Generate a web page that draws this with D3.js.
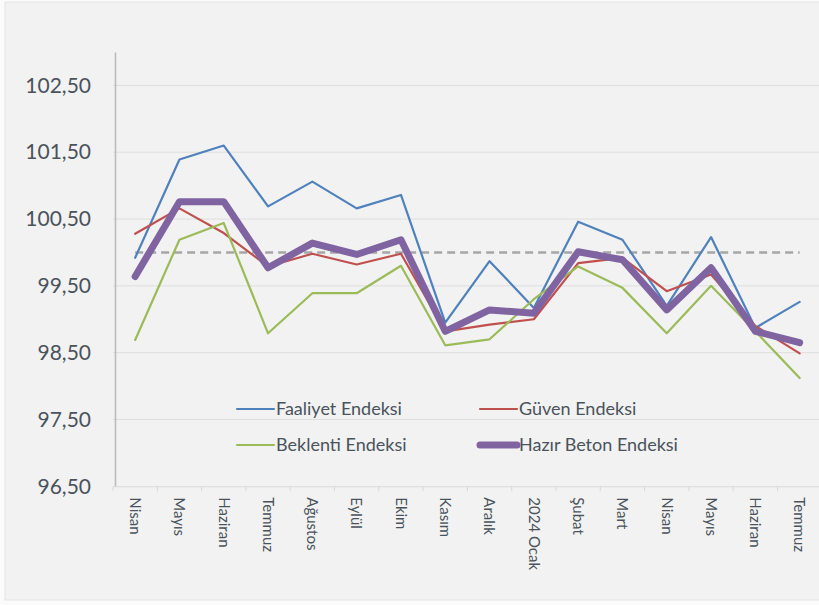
<!DOCTYPE html>
<html><head><meta charset="utf-8">
<script src="https://cdn.jsdelivr.net/npm/d3@7"></script>
<style>body{margin:0;background:#fff;} text{font-family:Lato, "Open Sans", sans-serif;}</style>
</head><body>
<svg id="c" width="819" height="605"></svg>
<script>
const categories = ["Nisan","Mayıs","Haziran","Temmuz","Ağustos","Eylül","Ekim","Kasım","Aralık","2024 Ocak","Şubat","Mart","Nisan","Mayıs","Haziran","Temmuz"];
const faaliyet = [99.92,101.39,101.60,100.69,101.06,100.66,100.86,98.95,99.87,99.17,100.46,100.19,99.20,100.23,98.87,99.26];
const guven    = [100.28,100.66,100.29,99.79,99.98,99.82,99.98,98.82,98.92,99.00,99.84,99.92,99.42,99.67,98.90,98.49];
const beklenti = [98.69,100.19,100.44,98.79,99.39,99.39,99.80,98.61,98.70,99.30,99.79,99.47,98.79,99.50,98.82,98.12];
const hazir    = [99.64,100.76,100.76,99.77,100.14,99.97,100.19,98.82,99.14,99.09,100.01,99.89,99.14,99.77,98.82,98.65];
const referenceLine = 100;
const yTicks = [96.5,97.5,98.5,99.5,100.5,101.5,102.5];
const seriesNames = ["Faaliyet Endeksi","Güven Endeksi","Beklenti Endeksi","Hazır Beton Endeksi"];

const series = [
  {name: seriesNames[0], values: faaliyet, color:"#4f81bd", width:2.2},
  {name: seriesNames[1], values: guven, color:"#c0504d", width:2.2},
  {name: seriesNames[2], values: beklenti, color:"#9bbb59", width:2.2},
  {name: seriesNames[3], values: hazir, color:"#8064a2", width:7}
];

const svg = d3.select("#c");
svg.append("rect").attr("x",0).attr("y",0).attr("width",819).attr("height",605).attr("fill","#fbfbfb");
svg.append("rect").attr("x",5).attr("y",2).attr("width",820).attr("height",598).attr("fill","#f2f2f2").attr("stroke","#e4e4e4");

const x = d3.scaleBand().domain(d3.range(categories.length)).range([113, 113+16*44.3]).padding(0);
const y = d3.scaleLinear().domain([96.5,103]).range([486.3,52]);
const loc = d3.formatLocale({decimal:",", thousands:".", grouping:[3], currency:["","₺"]});
const fmt = loc.format(".2f");

// gridlines
svg.append("g").selectAll("line").data(yTicks.slice(1)).join("line")
  .attr("x1",113).attr("x2",819).attr("y1",d=>y(d)).attr("y2",d=>y(d))
  .attr("stroke","#dedede").attr("stroke-width",1);

// y axis
const ya = svg.append("g").attr("transform","translate(115,0)")
  .call(d3.axisLeft(y).tickValues(yTicks).tickSize(0).tickPadding(24).tickFormat(fmt));
ya.select(".domain").attr("stroke","#b7bcc2").attr("stroke-width",1.6);
ya.selectAll("text").attr("font-size",21).attr("fill","#4a525c").style("font-family","Lato");

// x axis
const xa = svg.append("g").attr("transform",`translate(0,${y(96.5)})`)
  .call(d3.axisBottom(x).tickSize(0).tickFormat(i=>categories[i]));
xa.select(".domain").attr("stroke","#d9d9d9").attr("stroke-width",1);
xa.selectAll("text").attr("font-size",15).attr("fill","#4a525c")
  .attr("text-anchor","start").attr("transform","rotate(90)")
  .attr("x",11).attr("y",0).attr("dy","0.35em");
// category separators
svg.append("g").selectAll("line").data(d3.range(categories.length)).join("line")
  .attr("x1",i=>x(i)).attr("x2",i=>x(i)).attr("y1",y(96.5)).attr("y2",y(96.5)+5)
  .attr("stroke","#d9d9d9");

// reference line
svg.append("line").attr("x1",x(0)+x.bandwidth()/2).attr("x2",x(categories.length-1)+x.bandwidth()/2)
  .attr("y1",y(referenceLine)).attr("y2",y(referenceLine))
  .attr("stroke","#a6a6a6").attr("stroke-width",2.5).attr("stroke-dasharray","8,5");

const line = d3.line().x((d,i)=>x(i)+x.bandwidth()/2).y(d=>y(d));
svg.append("g").selectAll("path").data(series).join("path")
  .attr("d",d=>line(d.values)).attr("fill","none")
  .attr("stroke",d=>d.color).attr("stroke-width",d=>d.width)
  .attr("stroke-linejoin","round").attr("stroke-linecap","round");

// legend
const legPos = [[237,409],[480,409],[237,445],[480,445]];
const lg = svg.append("g").selectAll("g").data(series).join("g")
  .attr("transform",(d,i)=>`translate(${legPos[i][0]},${legPos[i][1]})`);
lg.append("line").attr("x1",0).attr("x2",37).attr("y1",0).attr("y2",0)
  .attr("stroke",d=>d.color).attr("stroke-width",d=>d.width).attr("stroke-linecap","round");
lg.append("text").attr("x",39).attr("y",0).attr("dy","0.35em").attr("font-size",18)
  .attr("fill","#4a525c").text(d=>d.name);
</script>
</body></html>
